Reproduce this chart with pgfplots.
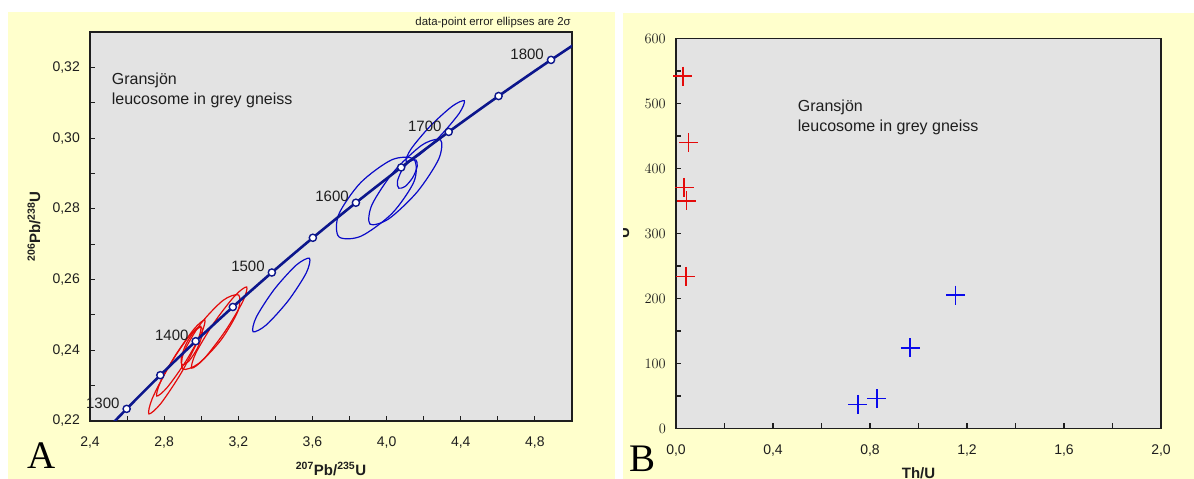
\documentclass[border=0pt]{standalone}
\usepackage{pgfplots}
\pgfplotsset{compat=1.18}
\usepackage{fontspec}
\setmainfont{Liberation Sans}
\newfontfamily\serifA{Liberation Serif}
\definecolor{bgyellow}{RGB}{255,255,204}
\definecolor{plotgrey}{RGB}{227,227,227}
\definecolor{navy}{RGB}{12,22,140}
\definecolor{ellred}{RGB}{228,10,10}
\definecolor{ellblue}{RGB}{10,10,200}
\definecolor{crossblue}{RGB}{10,10,235}
\definecolor{txt}{RGB}{30,30,30}
\pgfplotsset{
  panel/.style={
    scale only axis,
    tick align=inside, xtick pos=left, ytick pos=left,
    minor x tick num=1, minor y tick num=1,
    major tick length=5pt, minor tick length=5pt,
    every tick/.style={txt, line width=1.1pt},
    axis line style={txt, line width=1.5pt},
    axis background/.style={fill=plotgrey},
    ticklabel style={font=\fontsize{14}{16}\selectfont, text=txt},
    xticklabel style={anchor=base, yshift=-26pt},
    yticklabel style={anchor=east, inner sep=0pt, xshift=-10pt},
    label style={font=\fontsize{15}{17}\selectfont\bfseries, text=txt},
  },
  ell/.style={smooth cycle, line width=1.2pt},
}
\begin{document}
\begin{tikzpicture}[x=1pt,y=1pt]
\useasboundingbox (0,0) rectangle (1194,479);
\fill[white] (0,0) rectangle (1194,479);
\fill[bgyellow] (8,0) rectangle (615,467);
\fill[bgyellow] (623,0) rectangle (1194,466);

% ---------------- Panel A ----------------
\begin{axis}[panel,
  at={(90pt,58pt)}, anchor=south west,
  width=482pt, height=389pt,
  xmin=2.4, xmax=5.0, ymin=0.22, ymax=0.33,
  clip mode=individual,
  xtick={2.4,2.8,3.2,3.6,4.0,4.4,4.8},
  xticklabels={{2,4},{2,8},{3,2},{3,6},{4,0},{4,4},{4,8}},
  ytick={0.22,0.24,0.26,0.28,0.30,0.32},
  yticklabels={{0,22},{0,24},{0,26},{0,28},{0,30},{0,32}},
  xlabel={\textsuperscript{207}Pb/\textsuperscript{235}U},
  ylabel={\textsuperscript{206}Pb/\textsuperscript{238}U},
  xlabel style={at={(axis description cs:0.5,-0.1234)}, anchor=center},
  ylabel style={at={(axis description cs:-0.116,0.5)}, anchor=center},
]
% red ellipses
\addplot[ellred, ell] coordinates {(2.9972,0.24682) (2.9334,0.24390) (2.8251,0.23542) (2.7358,0.22634) (2.7178,0.22200) (2.7816,0.22492) (2.8899,0.23340) (2.9792,0.24248)};
\addplot[ellred, ell] coordinates {(3.0192,0.24856) (2.9620,0.24605) (2.8625,0.23871) (2.7789,0.23084) (2.7603,0.22705) (2.8176,0.22956) (2.9171,0.23690) (3.0006,0.24477)};
\addplot[ellred, ell] coordinates {(3.2019,0.25562) (3.1183,0.25413) (2.9954,0.24738) (2.9053,0.23933) (2.9006,0.23469) (2.9842,0.23619) (3.1070,0.24294) (3.1972,0.25099)};
\addplot[ellred, ell] coordinates {(3.2452,0.25789) (3.1798,0.25532) (3.0658,0.24754) (2.9701,0.23911) (2.9488,0.23497) (3.0142,0.23754) (3.1282,0.24532) (3.2239,0.25375)};
\addplot[ellred, ell] coordinates {(3.0003,0.24649) (2.9649,0.24549) (2.9202,0.24197) (2.8924,0.23800) (2.8977,0.23591) (2.9330,0.23691) (2.9777,0.24043) (3.0056,0.24440)};
% blue ellipses
\addplot[ellblue, ell] coordinates {(3.5838,0.26600) (3.5121,0.26406) (3.3934,0.25718) (3.2971,0.24938) (3.2797,0.24525) (3.3514,0.24719) (3.4701,0.25407) (3.5664,0.26186)};
\addplot[ellblue, ell] coordinates {(4.1473,0.29400) (4.0279,0.29386) (3.8598,0.28739) (3.7414,0.27838) (3.7420,0.27211) (3.8614,0.27225) (4.0296,0.27872) (4.1480,0.28773)};
\addplot[ellblue, ell] coordinates {(4.2910,0.29949) (4.1901,0.29800) (4.0369,0.29040) (3.9210,0.28115) (3.9105,0.27566) (4.0114,0.27716) (4.1647,0.28476) (4.2805,0.29401)};
\addplot[ellblue, ell] coordinates {(4.1573,0.29384) (4.1227,0.29334) (4.0815,0.29079) (4.0580,0.28768) (4.0658,0.28584) (4.1004,0.28634) (4.1415,0.28890) (4.1651,0.29200)};
\addplot[ellblue, ell] coordinates {(4.4193,0.31055) (4.3541,0.30902) (4.2351,0.30338) (4.1320,0.29693) (4.1052,0.29346) (4.1703,0.29499) (4.2893,0.30063) (4.3924,0.30707)};
% concordia
\begin{scope}
\clip (axis cs:2.4,0.22) rectangle (axis cs:5.0,0.33);
\addplot[navy, line width=2.6pt, smooth] coordinates {(2.42487,0.21398) (2.59774,0.22343) (2.77933,0.23296) (2.97010,0.24256) (3.17048,0.25224) (3.38098,0.26199) (3.60212,0.27181) (3.83441,0.28172) (4.07843,0.29170) (4.33477,0.30175) (4.60404,0.31189) (4.88690,0.32211) (5.18405,0.33240)};
\end{scope}
\addplot[only marks, mark=*, mark size=3.6pt, mark options={fill=white, draw=navy, line width=1.4pt}] coordinates {(2.59774,0.22343) (2.77933,0.23296) (2.97010,0.24256) (3.17048,0.25224) (3.38098,0.26199) (3.60212,0.27181) (3.83441,0.28172) (4.07843,0.29170) (4.33477,0.30175) (4.60404,0.31189) (4.88690,0.32211)};
\begin{scope}[every node/.style={anchor=east, inner sep=0pt, xshift=-7pt, yshift=6pt, font=\fontsize{15}{17}\selectfont, text=txt}]
\node at (axis cs:2.59774,0.22343) {1300};
\node at (axis cs:2.97010,0.24256) {1400};
\node at (axis cs:3.38098,0.26199) {1500};
\node at (axis cs:3.83441,0.28172) {1600};
\node at (axis cs:4.33477,0.30175) {1700};
\node at (axis cs:4.88690,0.32211) {1800};
\end{scope}
\end{axis}
\node[anchor=east, inner sep=0pt, font=\fontsize{11.4}{13}\selectfont, text=txt] at (571,456.7) {data-point error ellipses are 2σ};
\node[anchor=base west, inner sep=0pt, font=\fontsize{16}{18}\selectfont, text=txt] at (111.7,394) {Gransjön};
\node[anchor=base west, inner sep=0pt, font=\fontsize{16}{18}\selectfont, text=txt] at (111.7,374.5) {leucosome in grey gneiss};
\node[anchor=base west, inner sep=0pt, font=\serifA\fontsize{39}{40}\selectfont, text=black] at (27,10) {A};

% ---------------- Panel B ----------------
\begin{scope}
\clip (623,0) rectangle (1194,466);
\begin{axis}[panel,
  at={(676pt,50.5pt)}, anchor=south west,
  width=485pt, height=390pt,
  xmin=0, xmax=2.0, ymin=0, ymax=600,
  xtick={0,0.4,0.8,1.2,1.6,2.0},
  xticklabels={{0,0},{0,4},{0,8},{1,2},{1,6},{2,0}},
  ytick={0,100,200,300,400,500,600},
  xlabel={Th/U}, ylabel={U},
  xlabel style={at={(axis description cs:0.5,-0.1141)}, anchor=center},
  ylabel style={at={(axis description cs:-0.1072,0.5)}, anchor=center},
]
\addplot[only marks, mark=+, mark size=9.5pt, ellred, mark options={ellred, line width=1.6pt}] coordinates {(0.028,542) (0.052,440) (0.034,371) (0.044,350) (0.041,234)};
\addplot[only marks, mark=+, mark size=9.5pt, crossblue, mark options={crossblue, line width=1.6pt}] coordinates {(0.750,37) (0.828,46) (0.966,124) (1.153,205)};
\end{axis}
\end{scope}
\node[anchor=base west, inner sep=0pt, font=\fontsize{16}{18}\selectfont, text=txt] at (797.7,367.3) {Gransjön};
\node[anchor=base west, inner sep=0pt, font=\fontsize{16}{18}\selectfont, text=txt] at (797.7,347.3) {leucosome in grey gneiss};
\node[anchor=base west, inner sep=0pt, font=\serifA\fontsize{39}{40}\selectfont, text=black] at (629,7) {B};
\end{tikzpicture}
\end{document}
